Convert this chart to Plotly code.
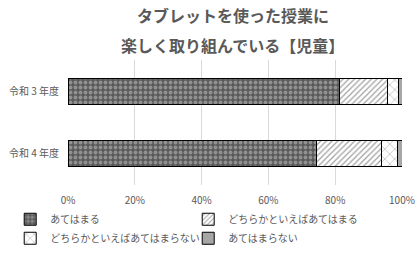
import plotly.graph_objects as go

categories = ["令和 3 年度", "令和 4 年度"]
series_names = ["あてはまる", "どちらかといえばあてはまる", "どちらかといえばあてはまらない", "あてはまらない"]
v_atehamaru = [81.4, 74.3]
v_dochiraka_ateharu = [14.3, 19.7]
v_dochiraka_atehamaranai = [3.4, 4.6]
v_atehamaranai = [0.9, 1.4]
tick_vals = [0, 20, 40, 60, 80, 100]
tick_text = ["0%", "20%", "40%", "60%", "80%", "100%"]
title_lines = ["タブレットを使った授業に", "楽しく取り組んでいる【児童】"]

values = [v_atehamaru, v_dochiraka_ateharu, v_dochiraka_atehamaranai, v_atehamaranai]
patterns = [
    dict(shape=".", bgcolor="#5a5a5a", fgcolor="#c8c8c8", size=5, solidity=0.45),
    dict(shape="/", bgcolor="#ffffff", fgcolor="#404040", size=4, solidity=0.3),
    dict(shape="x", bgcolor="#ffffff", fgcolor="#404040", size=7, solidity=0.15),
    dict(shape="", bgcolor="#a6a6a6", fgcolor="#a6a6a6"),
]
colors = ["#5a5a5a", "#ffffff", "#ffffff", "#a6a6a6"]

fig = go.Figure()
for name, vals, pat, col in zip(series_names, values, patterns, colors):
    fig.add_trace(go.Bar(
        y=categories, x=vals, name=name, orientation="h",
        marker=dict(color=col, pattern=pat, line=dict(color="#000000", width=1)),
        hoverinfo="skip",
    ))

font_family = "Noto Sans CJK JP"
fig.update_layout(
    barmode="stack",
    bargap=0.58,
    width=420, height=255,
    margin=dict(l=68, r=18, t=60, b=70, autoexpand=False),
    paper_bgcolor="white", plot_bgcolor="white",
    font=dict(family=font_family, size=10, color="#595959"),
    showlegend=True,
    legend=dict(orientation="h", x=-0.173, y=-0.158, xanchor="left", yanchor="top",
                entrywidth=133, entrywidthmode="pixels", traceorder="normal",
                font=dict(size=10, color="#595959"), itemwidth=30,
                tracegroupgap=0),
    xaxis=dict(range=[0, 100], tickvals=tick_vals, ticktext=tick_text,
               showgrid=True, gridcolor="#d9d9d9", gridwidth=1, zeroline=False,
               showline=False, ticklabelstandoff=8,
               tickfont=dict(size=10, color="#595959")),
    yaxis=dict(categoryorder="array", categoryarray=categories[::-1],
               showgrid=False, zeroline=False, showline=False,
               ticklabelstandoff=8, tickfont=dict(size=10, color="#595959")),
)
for i, (txt, yy) in enumerate(zip(title_lines, [1.36, 1.12])):
    fig.add_annotation(text="<b>" + txt + "</b>", xref="paper", yref="paper",
                       x=0.494, y=yy, xanchor="center", yanchor="middle",
                       showarrow=False, font=dict(size=16, color="#595959", family=font_family))

fig.write_html("out.html")
